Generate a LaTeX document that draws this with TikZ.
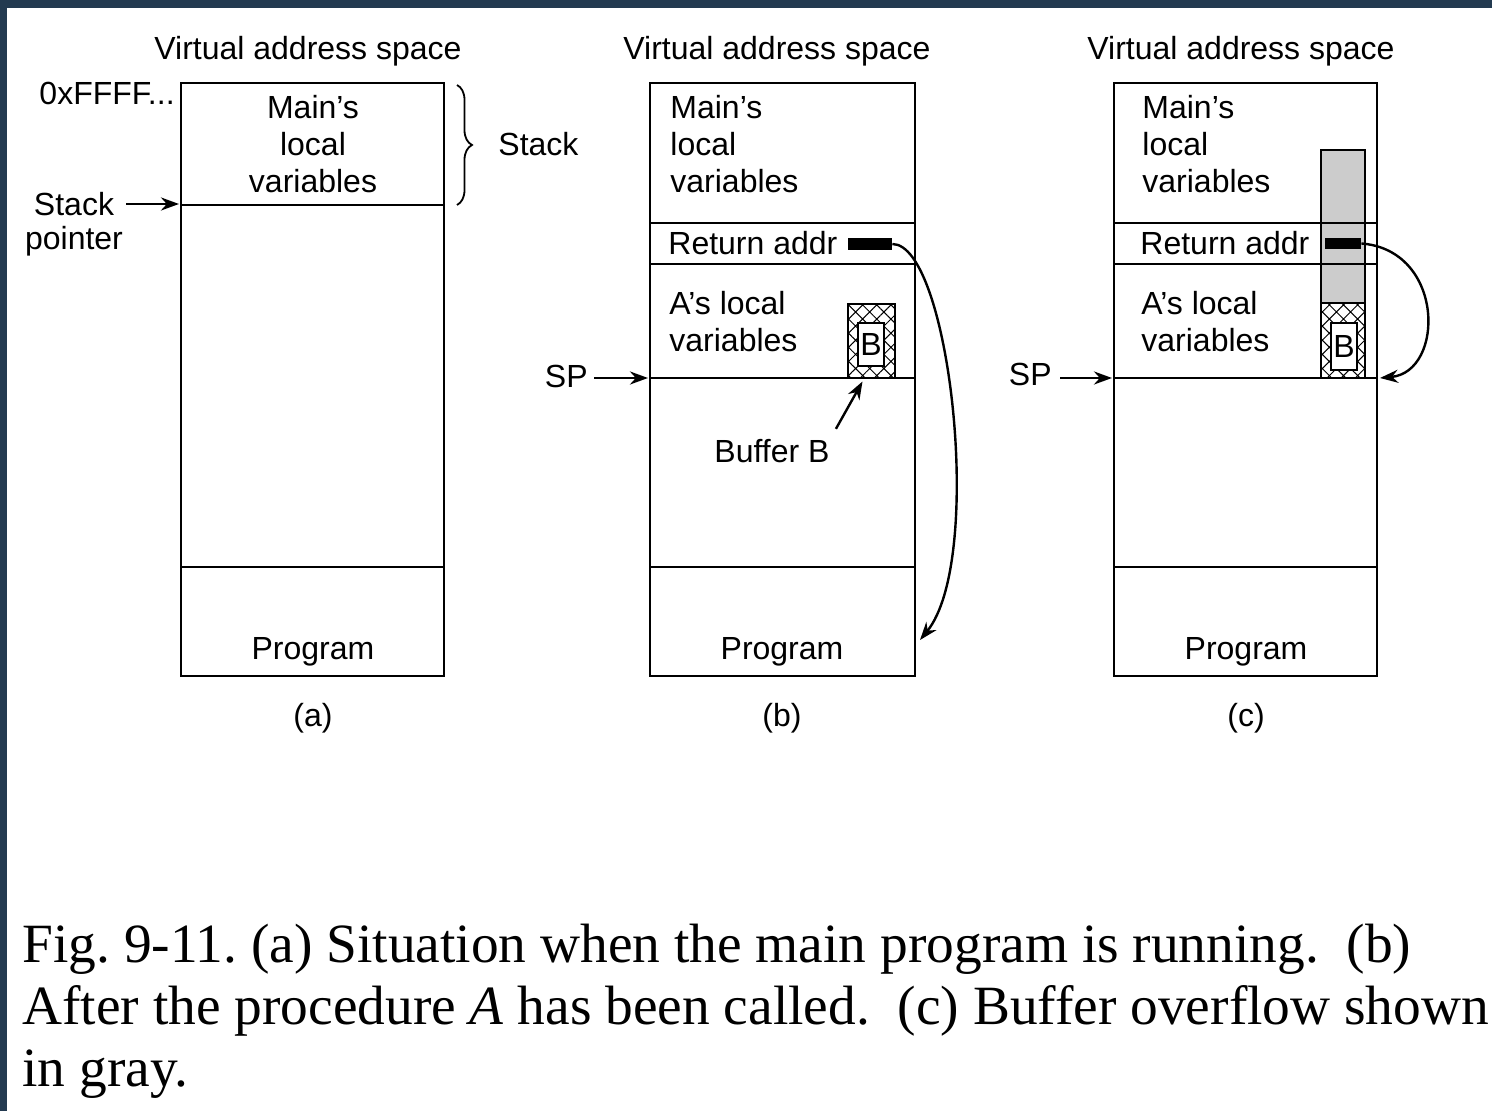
\documentclass[tikz,border=0pt]{standalone}
\usepackage{fontspec}
\setmainfont{Liberation Serif}
\setsansfont{Liberation Sans}
\usetikzlibrary{patterns.meta,decorations.pathreplacing,arrows.meta}
\definecolor{slidebg}{HTML}{233A50}
\frenchspacing
\begin{document}
\begin{tikzpicture}[x=0.5pt,y=-0.5pt,
    lbl/.style={font=\sffamily\fontsize{16}{18.5}\selectfont,inner sep=0pt},
    mem/.style={draw,line width=1pt},
    ptr/.style={-{Stealth[length=9pt,width=6.5pt]},line width=1.4pt},
    ret/.style={-{Stealth[length=9pt,width=6.5pt]},line width=1.2pt},
    bar/.style={fill=black,inner sep=0pt,minimum height=6pt},
    buf/.style={draw,line width=0.8pt,inner sep=0pt,
      pattern={Hatch[angle=45,distance=5pt,line width=0.5pt]}},
    bufin/.style={draw,fill=white,line width=0.8pt,inner sep=0pt,
      font=\sffamily\fontsize{16}{18}\selectfont},
    figtext/.style={font=\fontsize{27.7}{31}\selectfont,anchor=base west,inner sep=0pt}]
  % slide frame
  \fill[slidebg] (0,0) rectangle (1492,1111);
  \fill[white] (7,8) rectangle (1492,1111);
  \useasboundingbox (0,0) rectangle (1492,1111);
  % Panel (a): main program running
  \draw[mem] (181,83) rectangle (444,676);
  \draw[mem] (181,205) -- (444,205) (181,567) -- (444,567);
  \node[lbl,anchor=base] (vasA) at (308,60) {Virtual address space};
  \node[lbl,anchor=base east] (topA) at (175,105) {0xFFFF...};
  \node[lbl,align=center] (mainA) at (313,144) {Main’s\\local\\variables};
  \node[lbl,anchor=base] (progA) at (313,659) {Program};
  \node[lbl] (capA) at (313,718) {(a)};
  \node[lbl] (stkA) at (74,204) {Stack};
  \node[lbl] (ptrA) at (74,241) {pointer};
  \coordinate (spa) at (179,204);
  \draw[ptr] ([xshift=6pt]stkA.east |- spa) -- (spa);
  \draw[line width=0.9pt,decorate,decoration={brace,amplitude=7.5pt}] (457,85) -- (457,205);
  \node[lbl,anchor=west] (stkL) at (498,144) {Stack};
  % Panel (b): after A has been called
  \draw[mem] (650,83) rectangle (915,676);
  \draw[mem] (650,223) -- (915,223) (650,264) -- (915,264)
             (650,378) -- (915,378) (650,567) -- (915,567);
  \node[lbl,anchor=base] (vasB) at (777,60) {Virtual address space};
  \node[lbl,align=left,anchor=west] (mainB) at (670,144) {Main’s\\local\\variables};
  \node[lbl,anchor=west] (retB) at (668,243) {Return addr};
  \node[lbl,align=left,anchor=west] (locB) at (669,322) {A’s local\\variables};
  \node[buf,minimum width=23.5pt,minimum height=37pt] (hbB) at (871.5,341) {};
  \node[bufin,minimum width=13pt,minimum height=21.5pt] (bB) at (871,344.5) {B};
  \node[bar,minimum width=22pt] (rbB) at (870,244) {};
  \node[lbl,anchor=east] (spB) at (588,376) {SP};
  \coordinate (spb) at (648,378);
  \draw[ptr] ([xshift=3pt]spB.east |- spb) -- (spb);
  \node[lbl] (bufB) at (772,451) {Buffer B};
  \draw[ptr,line width=1.2pt] ([xshift=3pt,yshift=5pt]bufB.north east)
    -- ([xshift=-4.5pt,yshift=-1.5pt]hbB.south);
  \node[lbl,anchor=base] (progB) at (782,659) {Program};
  \node[lbl] (capB) at (782,718) {(b)};
  \coordinate (progb) at (920,640);
  \draw[ret] (rbB.east) .. controls (950,244) and (985,560) .. (progb);
  % Panel (c): buffer overflow in gray
  \draw[line width=0.8pt,fill=black!20] (1321,150) rectangle (1365,303);
  \node[buf,minimum width=22pt,minimum height=37.5pt] (hbC) at (1343,340.5) {};
  \node[bufin,minimum width=13pt,minimum height=23.5pt] (bC) at (1344,346.5) {B};
  \draw[mem] (1114,83) rectangle (1377,676);
  \draw[mem] (1114,223) -- (1377,223) (1114,264) -- (1377,264)
             (1114,378) -- (1377,378) (1114,567) -- (1377,567);
  \node[lbl,anchor=base] (vasC) at (1241,60) {Virtual address space};
  \node[lbl,align=left,anchor=west] (mainC) at (1142,144) {Main’s\\local\\variables};
  \node[lbl,anchor=west] (retC) at (1140,243) {Return addr};
  \node[lbl,align=left,anchor=west] (locC) at (1141,322) {A’s local\\variables};
  \node[bar,minimum width=18pt,minimum height=5.5pt] (rbC) at (1343,243.5) {};
  \node[lbl,anchor=east] (spC) at (1052,374) {SP};
  \coordinate (spc) at (1112,378);
  \draw[ptr] ([xshift=4pt]spC.east |- spc) -- (spc);
  \node[lbl,anchor=base] (progC) at (1246,659) {Program};
  \node[lbl] (capC) at (1246,718) {(c)};
  \coordinate (retc) at (1380,378);
  \draw[ret] (rbC.east) .. controls (1445,250) and (1445,372) .. (retc);
  % caption
  \node[figtext] (cap1) at (22,962) {Fig. 9-11. (a) Situation when the main program is running.\ \ (b)};
  \node[figtext] (cap2) at (22,1024) {After the procedure \textit{A} has been called.\ \ (c) Buffer overflow shown};
  \node[figtext] (cap3) at (22,1086) {in gray.};
\end{tikzpicture}
\end{document}
